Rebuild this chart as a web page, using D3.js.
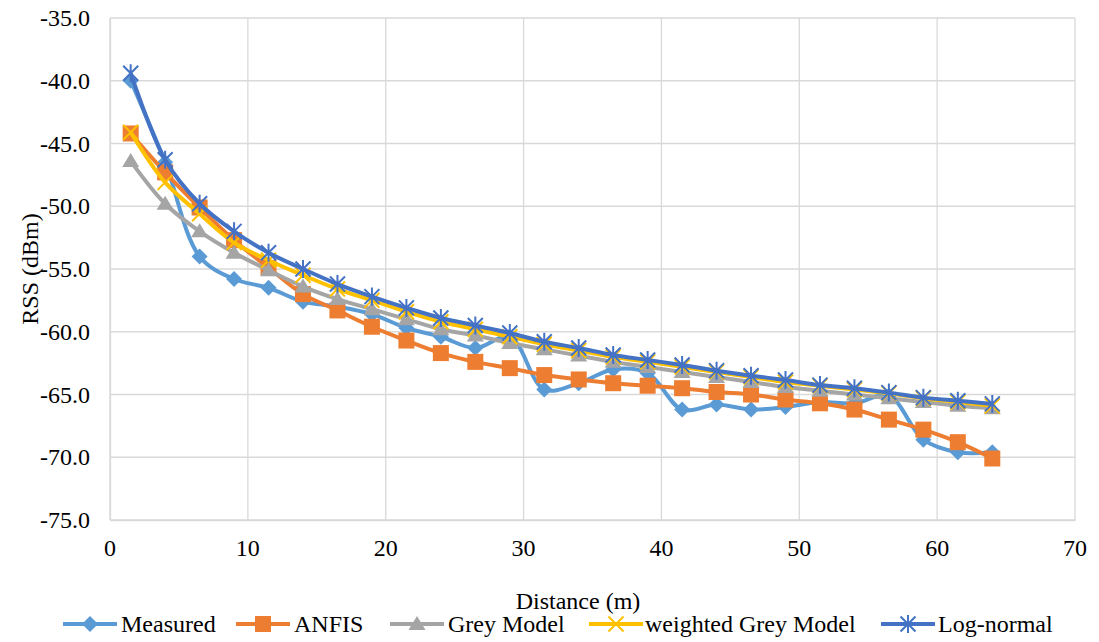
<!DOCTYPE html>
<html><head><meta charset="utf-8">
<script src="https://cdn.jsdelivr.net/npm/d3@7"></script>
<style>body{margin:0;background:#fff;}svg{display:block;font-family:'Liberation Serif','Times New Roman',serif;font-size:24px;}</style>
</head><body><svg id="c" width="1099" height="642" font-family="Liberation Serif" font-size="24"></svg>
<script>
const distance = [1.5,4,6.5,9,11.5,14,16.5,19,21.5,24,26.5,29,31.5,34,36.5,39,41.5,44,46.5,49,51.5,54,56.5,59,61.5,64];
const measured = [-40.0,-46.5,-54.0,-55.8,-56.5,-57.6,-58.0,-58.6,-59.7,-60.4,-61.3,-60.4,-64.6,-64.1,-63.0,-63.3,-66.2,-65.8,-66.2,-66.0,-65.6,-65.7,-65.1,-68.6,-69.6,-69.6];
const anfis = [-44.2,-47.3,-50.1,-52.7,-54.9,-57.0,-58.3,-59.6,-60.7,-61.7,-62.4,-62.9,-63.45,-63.8,-64.1,-64.3,-64.5,-64.8,-65.0,-65.4,-65.7,-66.2,-67.0,-67.8,-68.8,-70.1];
const greyModel = [-46.4,-49.8,-52.0,-53.7,-55.1,-56.4,-57.4,-58.2,-59.0,-59.8,-60.3,-60.9,-61.4,-61.9,-62.4,-62.8,-63.2,-63.6,-64.0,-64.4,-64.7,-65.0,-65.3,-65.6,-65.9,-66.1];
const weightedGrey = [-44.1,-48.1,-50.6,-52.9,-54.3,-55.5,-56.6,-57.5,-58.4,-59.2,-59.8,-60.4,-61.0,-61.5,-62.0,-62.4,-62.8,-63.2,-63.6,-64.0,-64.3,-64.6,-64.9,-65.3,-65.6,-65.9];
const logNormal = [-39.4,-46.3,-49.8,-52.0,-53.7,-55.0,-56.2,-57.2,-58.1,-58.9,-59.5,-60.1,-60.8,-61.3,-61.85,-62.25,-62.65,-63.1,-63.5,-63.85,-64.25,-64.5,-64.85,-65.25,-65.5,-65.75];
const seriesNames = ["Measured","ANFIS","Grey Model","weighted Grey Model","Log-normal"];
const xTicks = [0,10,20,30,40,50,60,70];
const yTicks = [-35,-40,-45,-50,-55,-60,-65,-70,-75];

const colors = ["#5B9BD5","#ED7D31","#A5A5A5","#FFC000","#4472C4"];
const markers = ["diamond","square","triangle","x","star"];
const data = [measured, anfis, greyModel, weightedGrey, logNormal];
const TSTYLE = "font-family:'Liberation Serif','Times New Roman',serif;font-size:24px;fill:#000";

const svg = d3.select("#c");
const L=110, R=1075, T=18, B=520;
const x = d3.scaleLinear().domain([0,70]).range([L,R]);
const y = d3.scaleLinear().domain([-75,-35]).range([B,T]);

svg.append("g").selectAll("line").data(yTicks).join("line")
  .attr("x1",L).attr("x2",R).attr("y1",d=>y(d)).attr("y2",d=>y(d))
  .attr("stroke","#d9d9d9").attr("stroke-width",1.3);
svg.append("g").selectAll("line").data(xTicks).join("line")
  .attr("x1",d=>x(d)).attr("x2",d=>x(d)).attr("y1",T).attr("y2",B)
  .attr("stroke","#d9d9d9").attr("stroke-width",1.3);

const gx = svg.append("g").attr("transform",`translate(0,${B})`).call(d3.axisBottom(x).tickValues(xTicks).tickSize(0).tickFormat(""));
gx.select(".domain").attr("stroke","#d9d9d9").attr("stroke-width",1.3);
const gy = svg.append("g").attr("transform",`translate(${L},0)`).call(d3.axisLeft(y).tickValues(yTicks).tickSize(0).tickFormat(""));
gy.select(".domain").attr("stroke","#d9d9d9").attr("stroke-width",1.3);

const labels = svg.append("g");
xTicks.forEach(d=>{
  labels.append("text").attr("x",x(d)).attr("y",B+36).attr("text-anchor","middle")
    .attr("style",TSTYLE).text(String(d));
});
yTicks.forEach(d=>{
  labels.append("text").attr("x",L-20).attr("y",y(d)+8).attr("text-anchor","end")
    .attr("style",TSTYLE).text(d.toFixed(1));
});

labels.append("text").attr("transform","translate(38,269) rotate(-90)").attr("text-anchor","middle")
  .attr("style",TSTYLE).text("RSS (dBm)");
labels.append("text").attr("x",578).attr("y",609).attr("text-anchor","middle")
  .attr("style",TSTYLE).text("Distance (m)");

function drawMarker(g, type, color, cx, cy){
  if(type==="diamond"){
    g.append("path").attr("d",`M${cx},${cy-8}L${cx+8},${cy}L${cx},${cy+8}L${cx-8},${cy}Z`).attr("fill",color);
  } else if(type==="square"){
    g.append("rect").attr("x",cx-8).attr("y",cy-8).attr("width",16).attr("height",16).attr("fill",color);
  } else if(type==="triangle"){
    g.append("path").attr("d",`M${cx},${cy-8}L${cx+8.5},${cy+6}L${cx-8.5},${cy+6}Z`).attr("fill",color);
  } else if(type==="x"){
    g.append("path").attr("d",`M${cx-7.5},${cy-7.5}L${cx+7.5},${cy+7.5}M${cx-7.5},${cy+7.5}L${cx+7.5},${cy-7.5}`).attr("stroke",color).attr("stroke-width",2);
  } else if(type==="star"){
    g.append("path").attr("d",`M${cx-7.5},${cy-7.5}L${cx+7.5},${cy+7.5}M${cx-7.5},${cy+7.5}L${cx+7.5},${cy-7.5}M${cx},${cy-9}L${cx},${cy+9}`).attr("stroke",color).attr("stroke-width",2);
  }
}

const line = d3.line().x((d,i)=>x(distance[i])).y(d=>y(d)).curve(d3.curveCatmullRom.alpha(0.5));
data.forEach((vals,si)=>{
  const g = svg.append("g");
  g.append("path").datum(vals).attr("d",line).attr("fill","none")
    .attr("stroke",colors[si]).attr("stroke-width",4).attr("stroke-linejoin","round");
  vals.forEach((v,i)=>drawMarker(g, markers[si], colors[si], x(distance[i]), y(v)));
});

const legX = [63,236,390,589,881];
const legTextX = [121,294,448,645,938];
const legY = 624;
seriesNames.forEach((n,i)=>{
  const g = svg.append("g");
  g.append("line").attr("x1",legX[i]).attr("x2",legX[i]+54).attr("y1",legY).attr("y2",legY)
    .attr("stroke",colors[i]).attr("stroke-width",4);
  drawMarker(g, markers[i], colors[i], legX[i]+27, legY);
  g.append("text").attr("x",legTextX[i]).attr("y",legY+8).attr("style",TSTYLE).text(n);
});
</script></body></html>
